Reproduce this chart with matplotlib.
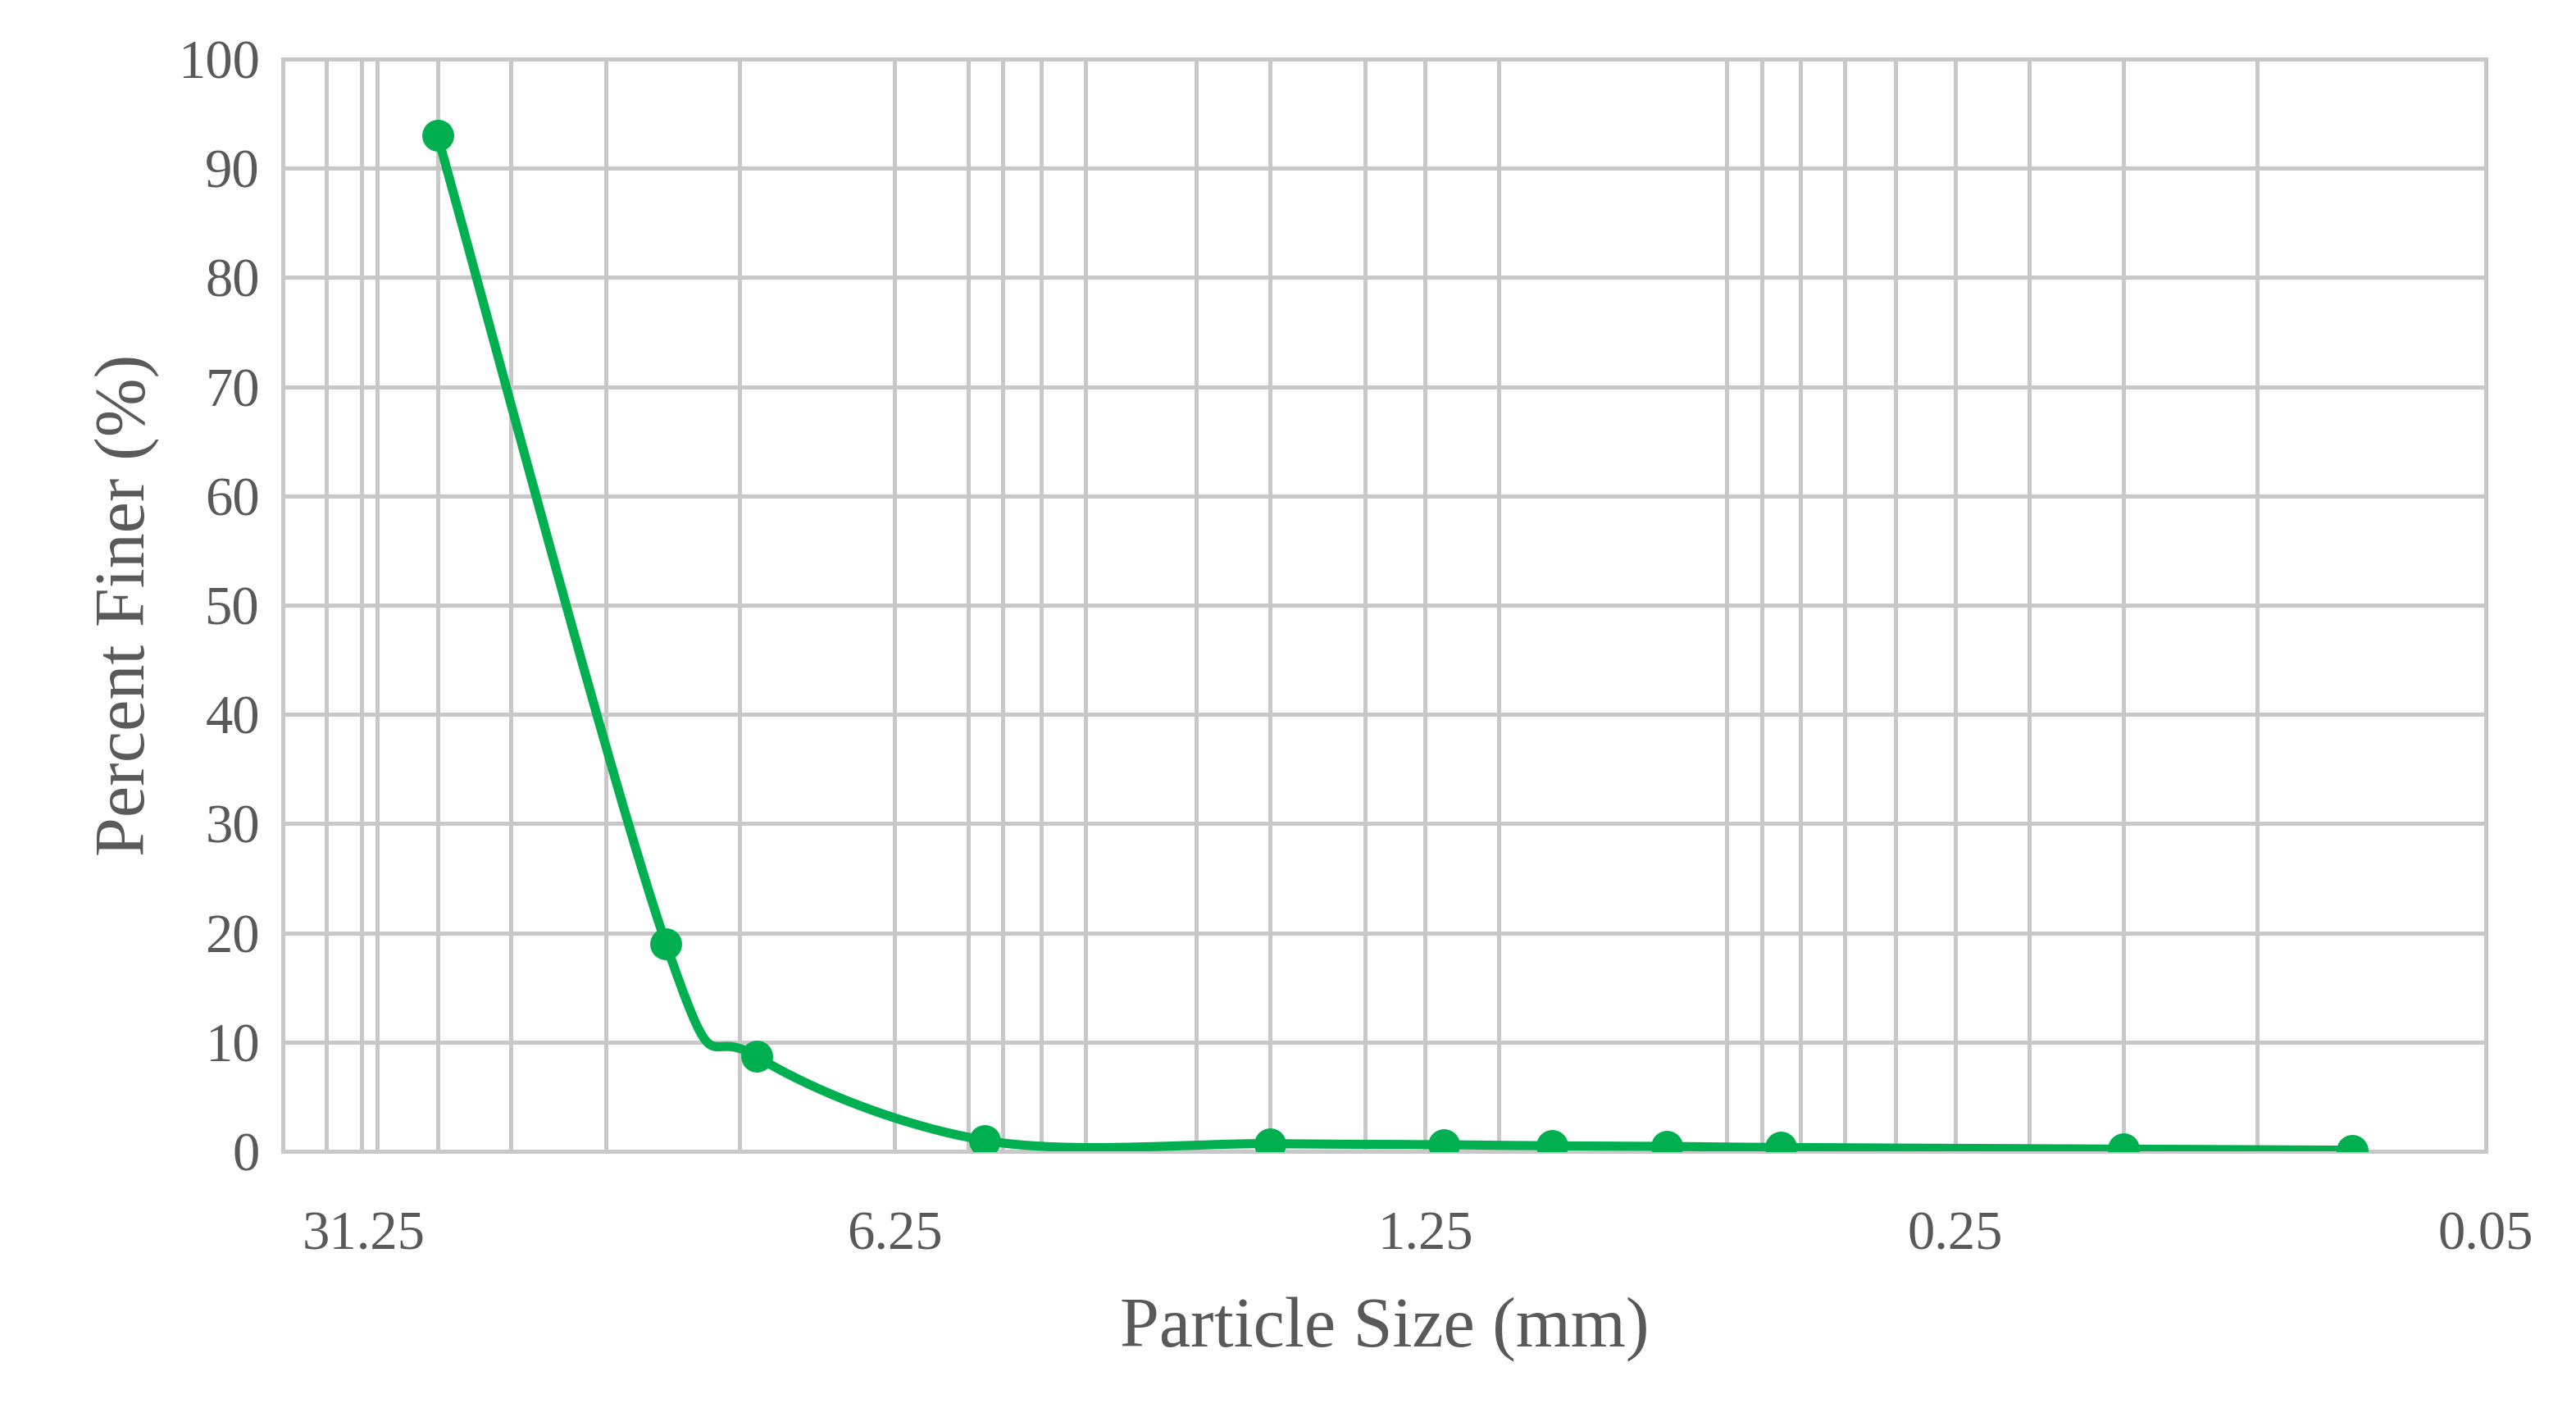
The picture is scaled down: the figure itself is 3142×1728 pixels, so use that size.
import numpy as np
import matplotlib.pyplot as plt

# sieve data
size_mm = [25, 12.5, 9.5, 4.75, 2.0, 1.18, 0.85, 0.6, 0.425, 0.15, 0.075]
pct_finer = [93, 19, 8.7, 1.0, 0.7, 0.6, 0.5, 0.45, 0.35, 0.2, 0.1]
x_ticks = [31.25, 6.25, 1.25, 0.25, 0.05]
x_tick_labels = ["31.25", "6.25", "1.25", "0.25", "0.05"]
grid_sizes = [35, 31.5, 30, 25, 20, 15, 10, 6.25, 5, 4.5, 4, 3.5, 2.5, 2, 1.5, 1.25,
              1, 0.5, 0.45, 0.4, 0.35, 0.3, 0.25, 0.2, 0.15, 0.1]

plt.rcParams['font.family'] = ['Liberation Serif', 'DejaVu Serif']
txt = '#595959'
grid_c = '#c8c8c8'

fig = plt.figure(figsize=(15.71, 8.64), dpi=200)
ax = fig.add_axes([0.1097, 0.1875, 0.8553, 0.7708])

# smoothed line (Catmull-Rom in screen-like space, like Excel smoothing)
sx, sy = 462.0, 6.66
P = np.column_stack([np.log10(size_mm) * sx, np.array(pct_finer, float) * sy])
P = np.vstack([P[0], P, P[-1]])
cx, cy = [], []
for i in range(1, len(P) - 2):
    p0, p1, p2, p3 = P[i - 1], P[i], P[i + 1], P[i + 2]
    t = np.linspace(0, 1, 40)[:, None]
    pts = 0.5 * ((2 * p1) + (-p0 + p2) * t + (2 * p0 - 5 * p1 + 4 * p2 - p3) * t ** 2
                 + (-p0 + 3 * p1 - 3 * p2 + p3) * t ** 3)
    cx.extend(pts[:, 0]); cy.extend(pts[:, 1])
cx = 10 ** (np.array(cx) / sx)
cy = np.array(cy) / sy

for g in grid_sizes:
    ax.axvline(g, color=grid_c, lw=1.8, zorder=0)
for v in range(0, 101, 10):
    ax.axhline(v, color=grid_c, lw=1.8, zorder=0)

ax.plot(cx, cy, color='#00b050', lw=4, zorder=3)
ax.plot(size_mm, pct_finer, 'o', color='#00b050', ms=13, zorder=4)

ax.set_xscale('log')
ax.set_xlim(40, 0.05)
ax.set_ylim(0, 100)
ax.set_xticks(x_ticks)
ax.set_xticklabels(x_tick_labels)
ax.minorticks_off()
ax.set_yticks(range(0, 101, 10))
ax.tick_params(length=0, labelsize=24, colors=txt, pad=10)
ax.tick_params(axis='x', pad=26)
for s in ax.spines.values():
    s.set_color(grid_c)
    s.set_linewidth(1.8)
ax.set_xlabel('Particle Size (mm)', fontsize=31, color=txt, labelpad=16)
ax.set_ylabel('Percent Finer (%)', fontsize=31, color=txt, labelpad=8)

fig.savefig('out.png')
